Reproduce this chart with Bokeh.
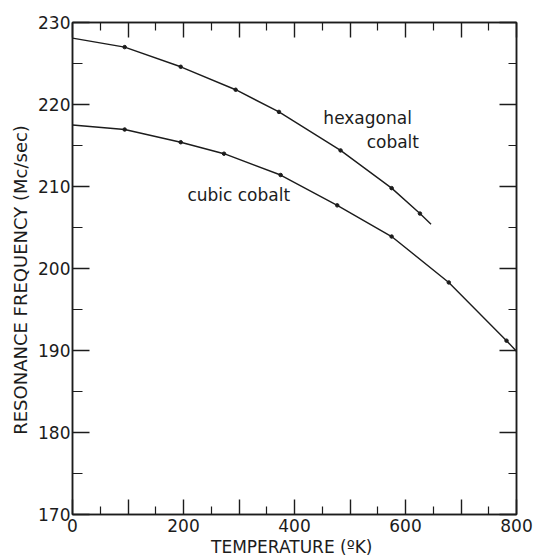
from bokeh.embed import file_html
from bokeh.models import FixedTicker, Label, LinearAxis, Range1d
from bokeh.plotting import figure
from bokeh.resources import INLINE

# Resonance frequency vs. temperature
hex_temp = [0, 94, 195, 294, 372, 483, 575, 626, 646]
hex_freq = [228.1, 227.0, 224.6, 221.8, 219.1, 214.4, 209.8, 206.7, 205.4]
cubic_temp = [0, 94, 195, 273, 375, 477, 575, 678, 782, 800]
cubic_freq = [217.5, 216.95, 215.4, 214.0, 211.4, 207.7, 203.9, 198.3, 191.2, 189.9]

# measured points marked on each curve (curve ends carry no marker)
hex_dot_temp = hex_temp[1:-1]
hex_dot_freq = hex_freq[1:-1]
cubic_dot_temp = cubic_temp[1:-1]
cubic_dot_freq = cubic_freq[1:-1]

x_major = [0, 100, 200, 300, 400, 500, 600, 700, 800]
x_minor = [50, 150, 250, 350, 450, 550, 650, 750]
x_labels = {0: "0", 200: "200", 400: "400", 600: "600", 800: "800"}
y_major = [170, 180, 190, 200, 210, 220, 230]
y_minor = [175, 185, 195, 205, 215, 225]

ink = "#1c1c1c"
font = "DejaVu Sans"

p = figure(
    width=536, height=559,
    x_range=Range1d(0, 800), y_range=Range1d(170, 230),
    output_backend="svg", toolbar_location=None,
    x_axis_location=None, y_axis_location=None,
    min_border_left=72, min_border_right=20,
    min_border_top=22, min_border_bottom=44,
)
p.xgrid.visible = False
p.ygrid.visible = False
p.outline_line_color = ink
p.outline_line_width = 1.5
p.background_fill_color = "white"
p.border_fill_color = "white"

xt = FixedTicker(ticks=x_major, minor_ticks=x_minor)
yt = FixedTicker(ticks=y_major, minor_ticks=y_minor)


def style_axis(ax, show_labels, major_len, minor_len):
    ax.axis_line_color = ink
    ax.axis_line_width = 1.5
    ax.major_tick_line_color = ink
    ax.minor_tick_line_color = ink
    ax.major_tick_line_width = 1.4
    ax.minor_tick_line_width = 1.2
    ax.major_tick_in = major_len
    ax.major_tick_out = 0
    ax.minor_tick_in = minor_len
    ax.minor_tick_out = 0
    if show_labels:
        ax.major_label_text_font = font
        ax.major_label_text_font_size = "17px"
        ax.major_label_text_color = ink
    else:
        ax.major_label_text_font_size = "0px"
        ax.major_label_standoff = 0


bottom = LinearAxis(ticker=xt, major_label_overrides={
    t: x_labels.get(t, "") for t in x_major})
style_axis(bottom, True, 15, 8)
bottom.major_label_standoff = 4
bottom.axis_label = "TEMPERATURE  (ºK)"
bottom.axis_label_text_font = font
bottom.axis_label_text_font_size = "17px"
bottom.axis_label_text_font_style = "normal"
bottom.axis_label_text_color = ink
bottom.axis_label_standoff = 2
p.add_layout(bottom, "below")

top = LinearAxis(ticker=xt)
style_axis(top, False, 15, 8)
p.add_layout(top, "above")

left = LinearAxis(ticker=yt)
style_axis(left, True, 17, 10)
left.major_label_standoff = 2
left.axis_label = "RESONANCE   FREQUENCY   (Mc/sec)"
left.axis_label_text_font = font
left.axis_label_text_font_size = "18px"
left.axis_label_text_font_style = "normal"
left.axis_label_text_color = ink
left.axis_label_standoff = 4
p.add_layout(left, "left")

right = LinearAxis(ticker=yt)
style_axis(right, False, 17, 8)
p.add_layout(right, "right")

# curves
p.line(hex_temp, hex_freq, line_color=ink, line_width=1.4)
p.line(cubic_temp, cubic_freq, line_color=ink, line_width=1.4)
p.scatter(hex_dot_temp, hex_dot_freq, size=3.5, color=ink)
p.scatter(cubic_dot_temp, cubic_dot_freq, size=3.5, color=ink)

# curve labels
for txt, x, y in [("hexagonal", 452, 218.3), ("cobalt", 530, 215.4),
                  ("cubic cobalt", 207, 209.0)]:
    p.add_layout(Label(x=x, y=y, text=txt, text_font=font,
                       text_font_size="17px", text_color=ink,
                       text_baseline="middle", text_align="left"))

open("out.html", "w").write(file_html(p, INLINE))
